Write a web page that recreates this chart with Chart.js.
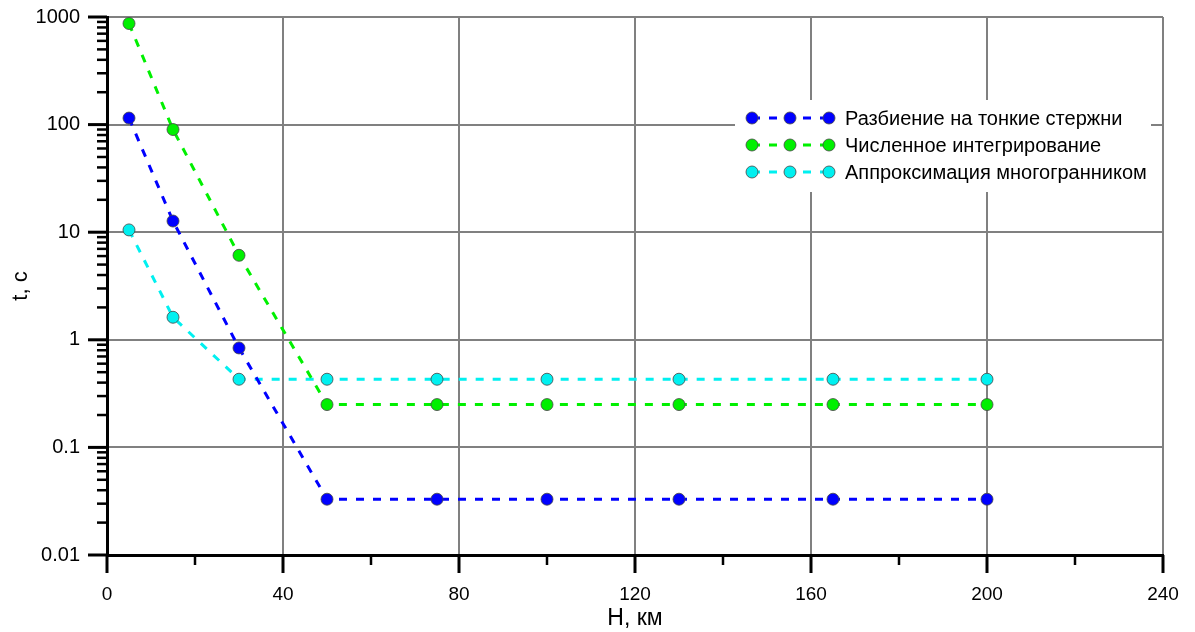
<!DOCTYPE html>
<html>
<head>
<meta charset="utf-8">
<script src="https://cdn.jsdelivr.net/npm/chart.js@4/dist/chart.umd.min.js"></script>
<style>
  html, body { margin: 0; padding: 0; background: #fff; }
  #wrap { width: 1195px; height: 632px; }
</style>
</head>
<body>
<div id="wrap"><canvas id="c" width="1195" height="632"></canvas></div>
<script>
// Altitude H, km
const heightsKm = [5, 15, 30, 50, 75, 100, 130, 165, 200];
// Computation time t, s for each method
const timeRods        = [115, 12.7, 0.84, 0.033, 0.033, 0.033, 0.033, 0.033, 0.033];
const timeIntegration = [870, 90, 6.1, 0.25, 0.25, 0.25, 0.25, 0.25, 0.25];
const timePolyhedron  = [10.5, 1.62, 0.43, 0.43, 0.43, 0.43, 0.43, 0.43, 0.43];

const seriesNames  = ['Разбиение на тонкие стержни', 'Численное интегрирование', 'Аппроксимация многогранником'];
const seriesColors = ['#0000ff', '#00f000', '#00f0f0'];

const yTickValues = [0.01, 0.1, 1, 10, 100, 1000];
const yTickLabels = ['0.01', '0.1', '1', '10', '100', '1000'];
const xTickValues = [0, 40, 80, 120, 160, 200, 240];

const FONT = "'Liberation Sans', Arial, sans-serif";

function toPoints(values) {
  return heightsKm.map((h, i) => ({ x: h, y: values[i] }));
}

function makeDataset(name, values, color) {
  return {
    label: name,
    data: toPoints(values),
    borderColor: color,
    backgroundColor: color,
    borderWidth: 3,
    borderDash: [8, 9],
    pointRadius: 6,
    pointHoverRadius: 6,
    pointBackgroundColor: color,
    pointBorderColor: 'rgba(70,70,70,0.8)',
    pointBorderWidth: 1,
    tension: 0,
    fill: false
  };
}

// Outer tick marks on both axes (major and minor), drawn from the scales
const axisTicks = {
  id: 'axisTicks',
  afterDraw(chart) {
    const ctx = chart.ctx;
    const xs = chart.scales.x, ys = chart.scales.y;
    const left = chart.chartArea.left, bottom = chart.chartArea.bottom;
    ctx.save();
    ctx.strokeStyle = '#000';
    ctx.lineCap = 'butt';
    // y: decades major, 2..9 minor
    for (let e = -2; e <= 3; e++) {
      const base = Math.pow(10, e);
      const py = ys.getPixelForValue(base);
      ctx.lineWidth = 3;
      ctx.beginPath(); ctx.moveTo(left - 19, py); ctx.lineTo(left, py); ctx.stroke();
      if (e < 3) {
        for (let m = 2; m <= 9; m++) {
          const p = ys.getPixelForValue(base * m);
          ctx.lineWidth = 2.5;
          ctx.beginPath(); ctx.moveTo(left - 10, p); ctx.lineTo(left, p); ctx.stroke();
        }
      }
    }
    // x: every 40 major, every 20 minor
    for (let v = 0; v <= 240; v += 20) {
      const px = xs.getPixelForValue(v);
      const major = v % 40 === 0;
      ctx.lineWidth = major ? 3 : 2.5;
      ctx.beginPath(); ctx.moveTo(px, bottom); ctx.lineTo(px, bottom + (major ? 18 : 10)); ctx.stroke();
    }
    ctx.restore();
  }
};

// Boxed legend inside the plot
const boxLegend = {
  id: 'boxLegend',
  afterDraw(chart) {
    const ctx = chart.ctx;
    const bx = 735, by = 100, bw = 416, bh = 92;
    ctx.save();
    ctx.fillStyle = '#fff';
    ctx.fillRect(bx, by, bw, bh);
    const rows = [118, 145, 172];
    chart.data.datasets.forEach((ds, i) => {
      const y = rows[i];
      const x0 = 752, x1 = 790, x2 = 829;
      ctx.strokeStyle = ds.borderColor;
      ctx.lineWidth = 3;
      ctx.setLineDash([8, 9]);
      ctx.beginPath(); ctx.moveTo(x0, y); ctx.lineTo(x2, y); ctx.stroke();
      ctx.setLineDash([]);
      [x0, x1, x2].forEach(x => {
        ctx.beginPath();
        ctx.arc(x, y, 6, 0, Math.PI * 2);
        ctx.fillStyle = ds.backgroundColor;
        ctx.fill();
        ctx.lineWidth = 1;
        ctx.strokeStyle = 'rgba(70,70,70,0.8)';
        ctx.stroke();
      });
      ctx.fillStyle = '#000';
      ctx.font = '20px ' + FONT;
      ctx.textBaseline = 'middle';
      ctx.textAlign = 'left';
      ctx.fillText(ds.label, 845, y + 1);
    });
    ctx.restore();
  }
};

new Chart(document.getElementById('c'), {
  type: 'line',
  data: {
    datasets: [
      makeDataset(seriesNames[0], timeRods, seriesColors[0]),
      makeDataset(seriesNames[1], timeIntegration, seriesColors[1]),
      makeDataset(seriesNames[2], timePolyhedron, seriesColors[2])
    ]
  },
  options: {
    responsive: false,
    animation: false,
    events: [],
    layout: { padding: { top: 17, right: 32, left: 0, bottom: 0 } },
    plugins: { legend: { display: false }, tooltip: { enabled: false } },
    scales: {
      x: {
        type: 'linear',
        min: 0, max: 240,
        afterBuildTicks(scale) { scale.ticks = xTickValues.map(v => ({ value: v })); },
        afterFit(scale) { scale.height = 77; scale.paddingLeft = 0; scale.paddingRight = 0; },
        ticks: {
          font: { family: FONT, size: 19 },
          color: '#000',
          padding: 28,
          maxRotation: 0,
          callback: v => String(v)
        },
        grid: {
          drawTicks: false,
          lineWidth: 2,
          color: c => (c.tick && c.tick.value === 0) ? 'rgba(0,0,0,0)' : '#808080'
        },
        border: { display: true, color: '#000', width: 3 },
        title: {
          display: true,
          text: 'H, км',
          font: { family: FONT, size: 23 },
          color: '#000',
          padding: { top: 0, bottom: 0 }
        }
      },
      y: {
        type: 'logarithmic',
        min: 0.01, max: 1000,
        afterBuildTicks(scale) { scale.ticks = yTickValues.map(v => ({ value: v })); },
        afterFit(scale) { scale.width = 107; scale.paddingTop = 0; scale.paddingBottom = 0; },
        ticks: {
          font: { family: FONT, size: 20 },
          color: '#000',
          padding: 27,
          callback: (v) => {
            const i = yTickValues.findIndex(t => Math.abs(t - v) / t < 1e-6);
            return i >= 0 ? yTickLabels[i] : '';
          }
        },
        grid: {
          drawTicks: false,
          lineWidth: 2,
          color: c => (c.tick && Math.abs(c.tick.value - 0.01) < 1e-9) ? 'rgba(0,0,0,0)' : '#808080'
        },
        border: { display: true, color: '#000', width: 3 },
        title: {
          display: true,
          text: 't, c',
          font: { family: FONT, size: 22 },
          color: '#000',
          padding: { top: 8, bottom: 0 }
        }
      }
    }
  },
  plugins: [axisTicks, boxLegend]
});
</script>
</body>
</html>
